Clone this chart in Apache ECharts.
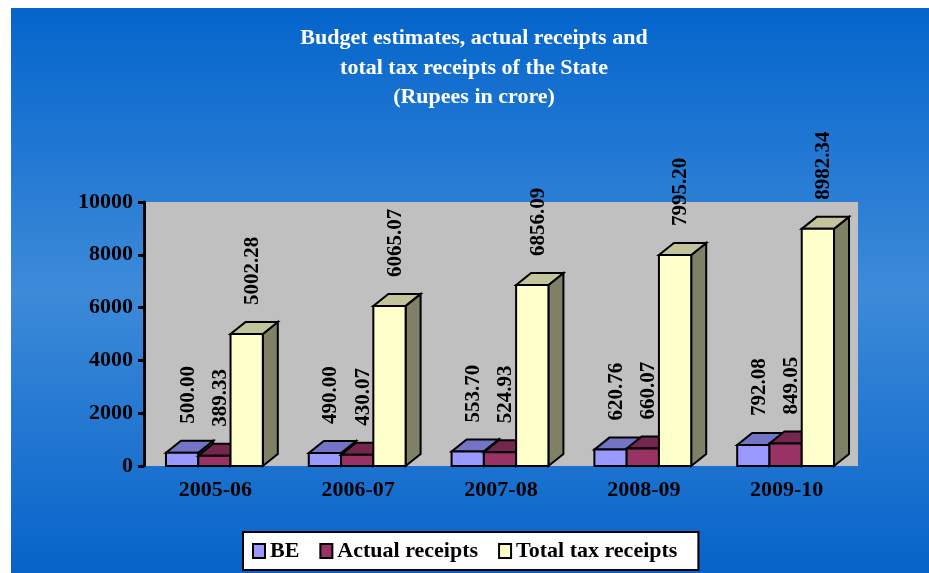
<!DOCTYPE html>
<html>
<head>
<meta charset="utf-8">
<script src="https://cdn.jsdelivr.net/npm/echarts@6/dist/echarts.min.js"></script>
<style>
  html, body { margin: 0; padding: 0; background: #ffffff; }
  #chart { width: 929px; height: 573px; }
</style>
</head>
<body>
<div id="chart"></div>
<script>
// Financial years on the category axis
const years = ['2005-06', '2006-07', '2007-08', '2008-09', '2009-10'];

// Values in Rupees crore
const beValues = [500.00, 490.00, 553.70, 620.76, 792.08];
const actualValues = [389.33, 430.07, 524.93, 660.07, 849.05];
const totalTaxValues = [5002.28, 6065.07, 6856.09, 7995.20, 8982.34];

const seriesNames = ['BE', 'Actual receipts', 'Total tax receipts'];

// Value axis range and step
const yMin = 0;
const yMax = 10000;
const yStep = 2000;

// Face colours for the pseudo-3D columns: front, top, side
const faceColors = [
  { front: '#9999FF', top: '#7474C6', side: '#5C5C9A' },
  { front: '#993366', top: '#74274E', side: '#5A1E3C' },
  { front: '#FFFFCC', top: '#C3C39C', side: '#808066' }
];

const SERIF = '"Liberation Serif", "Times New Roman", serif';
const DEPTH_X = 15;
const DEPTH_Y = 12;
const LABEL_GAP = 17;

function columnRenderer(seriesIndex) {
  const colors = faceColors[seriesIndex];
  return function (params, api) {
    const idx = api.value(0);
    const val = api.value(1);
    const band = api.size([1, 0])[0];
    const barW = band * 0.226;
    const base = api.coord([idx, 0]);
    const top = api.coord([idx, val]);
    const center = base[0] - 1;
    const x0 = center - 1.5 * barW + seriesIndex * barW;
    const x1 = x0 + barW;
    const yT = top[1];
    const yB = base[1];
    const stroke = { stroke: '#000', lineWidth: 2, lineJoin: 'miter' };
    return {
      type: 'group',
      children: [
        {
          type: 'polygon', z2: seriesIndex + 1,
          shape: { points: [[x1, yT], [x1 + DEPTH_X, yT - DEPTH_Y], [x1 + DEPTH_X, yB - DEPTH_Y], [x1, yB]] },
          style: Object.assign({ fill: colors.side }, stroke)
        },
        {
          type: 'polygon', z2: seriesIndex + 1,
          shape: { points: [[x0, yT], [x1, yT], [x1 + DEPTH_X, yT - DEPTH_Y], [x0 + DEPTH_X, yT - DEPTH_Y]] },
          style: Object.assign({ fill: colors.top }, stroke)
        },
        {
          type: 'rect', z2: seriesIndex + 1,
          shape: { x: x0, y: yT, width: barW, height: yB - yT },
          style: Object.assign({ fill: colors.front }, stroke)
        },
        {
          type: 'text', z2: 50,
          x: x0 + barW / 2 + 6,
          y: yT - DEPTH_Y - LABEL_GAP,
          rotation: Math.PI / 2,
          style: {
            text: val.toFixed(2),
            fill: '#000',
            font: 'bold 21px ' + SERIF,
            align: 'left', verticalAlign: 'middle',
            textAlign: 'left', textVerticalAlign: 'middle'
          }
        }
      ]
    };
  };
}

const valueSets = [beValues, actualValues, totalTaxValues];

const chart = echarts.init(document.getElementById('chart'), null, { renderer: 'canvas' });

chart.setOption({
  animation: false,
  backgroundColor: '#ffffff',
  color: faceColors.map(c => c.front),
  graphic: [
    {
      type: 'rect', z: -100, silent: true,
      shape: { x: 11, y: 8, width: 918, height: 565 },
      style: {
        fill: {
          type: 'linear', x: 0, y: 0, x2: 0, y2: 1,
          colorStops: [
            { offset: 0, color: '#0565CC' },
            { offset: 0.5, color: '#3D8AD9' },
            { offset: 1, color: '#0763C9' }
          ]
        }
      }
    }
  ],
  title: {
    text: 'Budget estimates, actual receipts and\ntotal tax receipts of the State\n(Rupees in crore)',
    left: 474,
    top: 24,
    padding: 0,
    textAlign: 'center',
    textStyle: {
      color: '#ffffff',
      fontFamily: SERIF,
      fontWeight: 'bold',
      fontSize: 22,
      lineHeight: 29.5
    }
  },
  legend: {
    data: seriesNames,
    left: 243,
    top: 532,
    orient: 'horizontal',
    backgroundColor: '#ffffff',
    borderColor: '#000000',
    borderWidth: 2,
    padding: [8, 21, 8, 9],
    itemGap: 20,
    itemWidth: 12,
    itemHeight: 14,
    icon: 'rect',
    itemStyle: { borderColor: '#000', borderWidth: 2 },
    textStyle: {
      color: '#000',
      fontFamily: SERIF,
      fontWeight: 'bold',
      fontSize: 22
    }
  },
  grid: {
    left: 144,
    top: 202,
    width: 714,
    height: 264,
    show: true,
    backgroundColor: '#C0C0C0',
    borderWidth: 0
  },
  xAxis: {
    type: 'category',
    data: years,
    axisLine: { show: false },
    axisTick: { show: false },
    splitLine: { show: false },
    axisLabel: {
      color: '#000',
      fontFamily: SERIF,
      fontWeight: 'bold',
      fontSize: 22,
      margin: 13
    }
  },
  yAxis: {
    type: 'value',
    min: yMin,
    max: yMax,
    interval: yStep,
    axisLine: { show: true, lineStyle: { color: '#000', width: 3 } },
    axisTick: { show: true, length: 6, lineStyle: { color: '#000', width: 3 } },
    splitLine: { show: false },
    axisLabel: {
      color: '#000',
      fontFamily: SERIF,
      fontWeight: 'bold',
      fontSize: 22,
      margin: 11,
      formatter: (v) => String(v)
    }
  },
  series: seriesNames.map((name, s) => ({
    name: name,
    type: 'custom',
    renderItem: columnRenderer(s),
    itemStyle: { color: faceColors[s].front, borderColor: '#000', borderWidth: 2 },
    encode: { x: 0, y: 1 },
    data: valueSets[s].map((v, i) => [i, v]),
    clip: false
  }))
});
</script>
</body>
</html>
